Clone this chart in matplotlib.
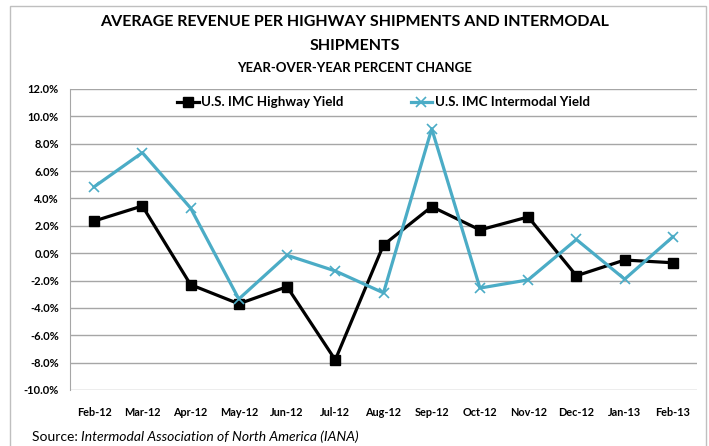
import matplotlib.pyplot as plt
from matplotlib.patches import Rectangle
from matplotlib.ticker import FuncFormatter

months = ['Feb-12', 'Mar-12', 'Apr-12', 'May-12', 'Jun-12', 'Jul-12', 'Aug-12',
          'Sep-12', 'Oct-12', 'Nov-12', 'Dec-12', 'Jan-13', 'Feb-13']
highway = [2.35, 3.45, -2.3, -3.7, -2.45, -7.8, 0.6, 3.4, 1.7, 2.65, -1.65, -0.5, -0.7]
intermodal = [4.85, 7.35, 3.3, -3.35, -0.15, -1.3, -2.9, 9.1, -2.55, -1.95, 1.0, -1.9, 1.2]

plt.rcParams['font.family'] = ['Lato', 'DejaVu Sans']

fig = plt.figure(figsize=(7.09, 4.46), dpi=100)
ax = fig.add_axes([70 / 709, 1 - 390 / 446, 627 / 709, 301 / 446])

x = range(len(months))
ax.plot(x, highway, color='black', lw=2.3, marker='s', markersize=7,
        label='U.S. IMC Highway Yield')
ax.plot(x, intermodal, color='#4bacc6', lw=2.3, marker='x', markersize=7,
        markeredgewidth=1.2, label='U.S. IMC Intermodal Yield')

ax.set_xlim(-0.5, len(months) - 0.5)
ax.set_ylim(-10, 12)
ax.set_yticks(range(-10, 13, 2))
ax.yaxis.set_major_formatter(FuncFormatter(lambda v, p: f'{v:.1f}%'))
ax.set_xticks(list(x))
ax.set_xticklabels(months)
ax.grid(axis='y', color='#a6a6a6', lw=1)
ax.set_axisbelow(True)
for s in ['top', 'right', 'bottom']:
    ax.spines[s].set_visible(False)
ax.spines['left'].set_color('#a6a6a6')
ax.tick_params(axis='x', length=0, labelsize=7.8, pad=12)
ax.tick_params(axis='y', length=0, labelsize=8, pad=8)
for lab in ax.get_xticklabels() + ax.get_yticklabels():
    lab.set_fontweight('bold')

ax.legend(loc='upper center', bbox_to_anchor=(0.5, 1.015), ncol=2, frameon=False,
          prop={'weight': 'bold', 'size': 9.6}, columnspacing=5, handlelength=1.6,
          handletextpad=0.2)

fig.text(0.5, 1 - 22 / 446, 'AVERAGE REVENUE PER HIGHWAY SHIPMENTS AND INTERMODAL',
         ha='center', va='center', fontsize=11.5, fontweight='bold')
fig.text(0.5, 1 - 46 / 446, 'SHIPMENTS', ha='center', va='center',
         fontsize=11.5, fontweight='bold')
fig.text(0.5, 1 - 68 / 446, 'YEAR-OVER-YEAR PERCENT CHANGE', ha='center', va='center',
         fontsize=9.5, fontweight='bold')

t1 = fig.text(32 / 709, 1 - 437 / 446, 'Source: ', ha='left', va='center', fontsize=10)
fig.canvas.draw()
bb = t1.get_window_extent()
fig.text(bb.x1 / 709, 1 - 437 / 446, 'Intermodal Association of North America (IANA)',
         ha='left', va='center', fontsize=10, style='italic')

fig.patches.append(Rectangle((10 / 709, -0.1), 696 / 709, 1 - 6 / 446 + 0.1,
                             transform=fig.transFigure, fill=False,
                             edgecolor='#bfbfbf', lw=1))

fig.savefig('out.png', dpi=100)
